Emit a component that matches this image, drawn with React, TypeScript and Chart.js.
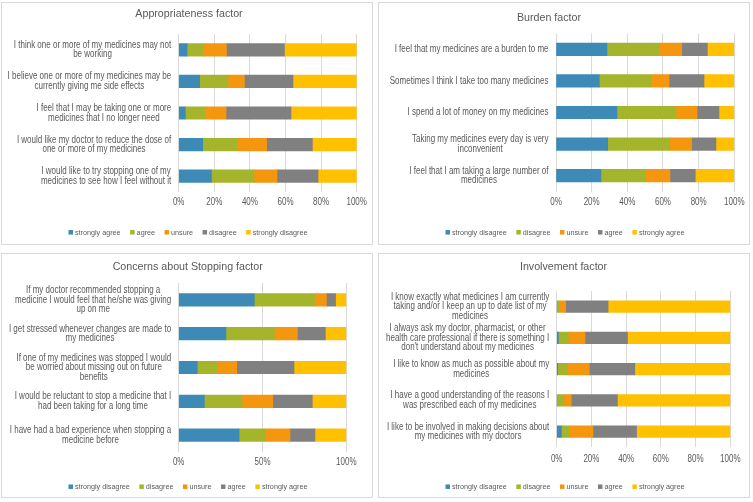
import React, { useEffect, useRef } from "react";
import { Chart, registerables } from "chart.js";

Chart.register(...registerables);

// ---------- text ----------
const appropriatenessTitle = "Appropriateness factor";
const burdenTitle = "Burden factor";
const concernsTitle = "Concerns about Stopping factor";
const involvementTitle = "Involvement factor";

const appropriatenessLabels = [
  ["I think one or more of my medicines may not", "be working"],
  ["I believe one or more of my medicines may be", "currently giving me side effects"],
  ["I feel that I may be taking one or more", "medicines that I no longer need"],
  ["I would like my doctor to reduce the dose of", "one or more of my medicines"],
  ["I would like to try stopping one of my", "medicines to see how I feel without it"],
];
const burdenLabels = [
  ["I feel that my medicines are a burden to me"],
  ["Sometimes I think I take too many medicines"],
  ["I spend a lot of money on my medicines"],
  ["Taking my medicines every day is very", "inconvenient"],
  ["I feel that I am taking a large number of", "medicines"],
];
const concernsLabels = [
  ["If my doctor recommended stopping a", "medicine I would feel that he/she was giving", "up on me"],
  ["I get stressed whenever changes are made to", "my medicines"],
  ["If one of my medicines was stopped I would", "be worried about missing out on future", "benefits"],
  ["I would be reluctant to stop a medicine that I", "had been taking for a long time"],
  ["I have had a bad experience when stopping a", "medicine before"],
];
const involvementLabels = [
  ["I know exactly what medicines I am currently", "taking and/or I keep an up to date list of my", "medicines"],
  ["I always ask my doctor, pharmacist, or other", "health care professional if there is something I", "don't understand about my medicines"],
  ["I like to know as much as possible about my", "medicines"],
  ["I have a good understanding of the reasons I", "was prescribed each of my medicines"],
  ["I like to be involved in making decisions about", "my medicines with my doctors"],
];

const agreeFirstSeries = ["strongly agree", "agree", "unsure", "disagree", "strongly disagree"];
const disagreeFirstSeries = ["strongly disagree", "disagree", "unsure", "agree", "strongly agree"];

// ---------- values (% of respondents) ----------
const appStronglyAgree = [4.7, 11.8, 3.7, 13.5, 18.4];
const appAgree = [9.2, 15.9, 11.1, 19.1, 23.9];
const appUnsure = [12.9, 9.2, 11.8, 16.8, 12.9];
const appDisagree = [32.6, 27.3, 36.5, 25.7, 23.1];
const appStronglyDisagree = [40.6, 35.8, 36.9, 24.9, 21.7];

const burStronglyDisagree = [28.6, 24.3, 34.2, 29.0, 25.2];
const burDisagree = [29.5, 28.8, 33.1, 34.6, 24.9];
const burUnsure = [12.4, 10.3, 11.8, 12.5, 13.8];
const burAgree = [14.4, 19.6, 12.3, 13.6, 14.2];
const burStronglyAgree = [15.1, 17.0, 8.6, 10.3, 21.9];

const conStronglyDisagree = [45.1, 28.2, 11.1, 15.3, 36.0];
const conDisagree = [36.2, 28.9, 11.8, 22.5, 15.3];
const conUnsure = [6.8, 13.7, 11.7, 18.3, 15.1];
const conAgree = [5.5, 16.7, 34.2, 23.6, 14.9];
const conStronglyAgree = [6.4, 12.5, 31.2, 20.3, 18.7];

const invStronglyDisagree = [0, 1.0, 0.6, 0, 2.7];
const invDisagree = [1.1, 5.7, 5.7, 4.2, 4.8];
const invUnsure = [4.0, 9.6, 12.5, 4.2, 13.4];
const invAgree = [24.5, 24.5, 26.2, 26.6, 25.1];
const invStronglyAgree = [70.4, 59.2, 55.0, 65.0, 54.0];

const tickStep20 = 20;
const tickStep50 = 50;

// ---------- styles ----------
const FONT = "'Liberation Sans', Arial, sans-serif";
const TEXT = "#595959";
const GRID = "#d9d9d9";
const COLORS = ["#3e8ab6", "#a5b52b", "#f5960f", "#808080", "#ffc000"];

function drawScaled(ctx: CanvasRenderingContext2D, text: string, x: number, y: number, sx: number, align: CanvasTextAlign) {
  ctx.save();
  ctx.translate(x, y);
  ctx.scale(sx, 1);
  ctx.textAlign = align;
  ctx.fillText(text, 0, 0);
  ctx.restore();
}

const textPlugin = {
  id: "excelText",
  afterDraw(chart: any, _args: any, opts: any) {
    const ctx: CanvasRenderingContext2D = chart.ctx;
    ctx.save();
    ctx.fillStyle = TEXT;
    ctx.textBaseline = "middle";

    // title
    ctx.font = `11px ${FONT}`;
    drawScaled(ctx, opts.title, opts.titleX, opts.titleY, 0.97, "center");

    // category labels: block right-aligned to axis, lines centred within block
    const ys = chart.scales.y;
    ctx.font = `10px ${FONT}`;
    const sx = opts.sx;
    (chart.data.labels as string[][]).forEach((lab, i) => {
      const lines = Array.isArray(lab) ? lab : [lab];
      const w = Math.max(...lines.map((l) => ctx.measureText(l).width)) * sx;
      const cx = ys.right - opts.pad - w / 2;
      const yc = ys.getPixelForTick(i);
      lines.forEach((l, j) => {
        drawScaled(ctx, l, cx, yc + (j - (lines.length - 1) / 2) * opts.lineHeight, sx, "center");
      });
    });

    // value-axis tick labels
    const xs = chart.scales.x;
    xs.ticks.forEach((t: any) => {
      drawScaled(ctx, `${t.value}%`, xs.getPixelForValue(t.value), opts.tickY, sx, "center");
    });

    // legend
    ctx.font = `8px ${FONT}`;
    const lsx = 0.9;
    const box = 4.5;
    const boxGap = 2;
    const itemGap = 9.5;
    const items = chart.data.datasets.map((d: any) => ({
      text: d.label as string,
      color: d.backgroundColor as string,
      w: box + boxGap + ctx.measureText(d.label).width * lsx,
    }));
    const total = items.reduce((s: number, it: any) => s + it.w, 0) + itemGap * (items.length - 1);
    let x = chart.width / 2 - total / 2 + 1;
    items.forEach((it: any) => {
      ctx.fillStyle = it.color;
      ctx.fillRect(x, opts.legendY - box / 2, box, box);
      ctx.fillStyle = TEXT;
      drawScaled(ctx, it.text, x + box + boxGap, opts.legendY, lsx, "left");
      x += it.w + itemGap;
    });
    ctx.restore();
  },
};

type PanelDef = {
  title: string;
  labels: string[][];
  seriesNames: string[];
  values: number[][];
  step: number;
  box: { left: number; top: number; width: number; height: number };
  titleX: number;
  titleY: number;
  chartTop: number;
  yWidth: number;
  rightPad: number;
  xHeight: number;
  tickY: number;
  legendY: number;
  barThickness: number;
};

function Panel({ def }: { def: PanelDef }) {
  const ref = useRef<HTMLCanvasElement | null>(null);
  useEffect(() => {
    if (!ref.current) return;
    const chart = new Chart(ref.current, {
      type: "bar",
      data: {
        labels: def.labels as any,
        datasets: def.seriesNames.map((name, i) => ({
          label: name,
          data: def.values[i],
          backgroundColor: COLORS[i],
          borderWidth: 0,
          barThickness: def.barThickness,
        })),
      },
      options: {
        indexAxis: "y",
        animation: false,
        responsive: false,
        devicePixelRatio: 1,
        layout: { padding: { left: 0, right: def.rightPad, top: def.chartTop, bottom: 0 } },
        scales: {
          x: {
            stacked: true,
            min: 0,
            max: 100,
            ticks: { stepSize: def.step, display: false },
            grid: { color: GRID, drawTicks: false },
            border: { display: false },
            afterFit: (axis: any) => {
              axis.height = def.xHeight;
            },
          },
          y: {
            stacked: true,
            ticks: { display: false, autoSkip: false },
            grid: { display: false },
            border: { display: false },
            afterFit: (axis: any) => {
              axis.width = def.yWidth;
            },
          },
        },
        plugins: {
          title: { display: false },
          legend: { display: false },
          tooltip: { enabled: false },
          excelText: {
            title: def.title,
            titleX: def.titleX,
            titleY: def.titleY,
            sx: 0.8,
            pad: 7.5,
            lineHeight: 9.6,
            tickY: def.tickY,
            legendY: def.legendY,
          },
        } as any,
      },
      plugins: [textPlugin],
    });
    return () => chart.destroy();
  }, [def]);

  const b = def.box;
  return (
    <>
      <div
        style={{
          position: "absolute",
          left: b.left,
          top: b.top,
          width: b.width - 2,
          height: b.height - 2,
          border: `1px solid ${GRID}`,
        }}
      />
      <canvas
        ref={ref}
        width={b.width - 2}
        height={b.height - 2}
        style={{ position: "absolute", left: b.left + 1, top: b.top + 1, width: b.width - 2, height: b.height - 2 }}
      />
    </>
  );
}

const panels: PanelDef[] = [
  {
    title: appropriatenessTitle,
    labels: appropriatenessLabels,
    seriesNames: agreeFirstSeries,
    values: [appStronglyAgree, appAgree, appUnsure, appDisagree, appStronglyDisagree],
    step: tickStep20,
    box: { left: 1, top: 2, width: 372, height: 243 },
    titleX: 187,
    titleY: 11,
    chartTop: 31,
    yWidth: 176.7,
    rightPad: 15.3,
    xHeight: 52,
    tickY: 199.7,
    legendY: 229.3,
    barThickness: 12.5,
  },
  {
    title: burdenTitle,
    labels: burdenLabels,
    seriesNames: disagreeFirstSeries,
    values: [burStronglyDisagree, burDisagree, burUnsure, burAgree, burStronglyAgree],
    step: tickStep20,
    box: { left: 378, top: 2, width: 372, height: 243 },
    titleX: 170,
    titleY: 14.5,
    chartTop: 30.5,
    yWidth: 177,
    rightPad: 14.7,
    xHeight: 52.5,
    tickY: 199.3,
    legendY: 229.3,
    barThickness: 12.5,
  },
  {
    title: concernsTitle,
    labels: concernsLabels,
    seriesNames: disagreeFirstSeries,
    values: [conStronglyDisagree, conDisagree, conUnsure, conAgree, conStronglyAgree],
    step: tickStep50,
    box: { left: 1, top: 253, width: 372, height: 245 },
    titleX: 185.7,
    titleY: 12.7,
    chartTop: 29,
    yWidth: 176.7,
    rightPad: 25.7,
    xHeight: 45,
    tickY: 208,
    legendY: 232.7,
    barThickness: 12.5,
  },
  {
    title: involvementTitle,
    labels: involvementLabels,
    seriesNames: disagreeFirstSeries,
    values: [invStronglyDisagree, invDisagree, invUnsure, invAgree, invStronglyAgree],
    step: tickStep20,
    box: { left: 378, top: 253, width: 372, height: 245 },
    titleX: 184.5,
    titleY: 12.7,
    chartTop: 37,
    yWidth: 177.7,
    rightPad: 18.7,
    xHeight: 49.7,
    tickY: 205.3,
    legendY: 232.7,
    barThickness: 11.5,
  },
];

export default function App() {
  return (
    <div style={{ position: "absolute", left: 0, top: 0, width: 753, height: 502, background: "#ffffff" }}>
      {panels.map((p, i) => (
        <Panel key={i} def={p} />
      ))}
    </div>
  );
}
